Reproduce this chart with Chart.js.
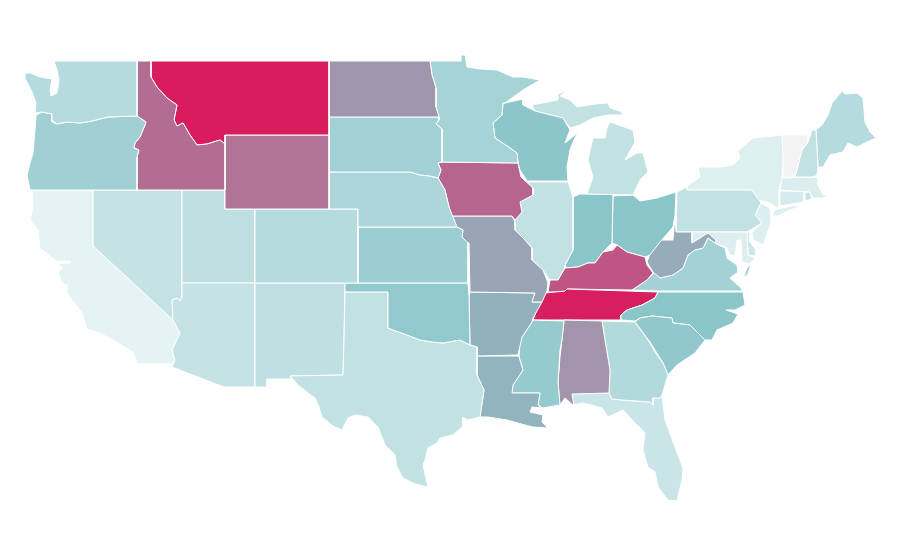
<!DOCTYPE html>
<html>
<head>
<meta charset="utf-8">
<title>US states map</title>
<script src="https://cdn.jsdelivr.net/npm/chart.js@4"></script>
<style>
  html, body { margin: 0; padding: 0; background: #fff; }
  #wrap { width: 900px; height: 560px; }
</style>
</head>
<body>
<div id="wrap"><canvas id="mapChart"></canvas></div>
<script>
// state outlines, in map units
const WA = [[54,61],[137,61],[137,116],[108,117],[100,119],[92,121],[80,123],[67,122],[57,124],[52,120],[52,114],[42,112],[35,113],[36,103],[32,92],[25,78],[25,73],[30,73],[40,77],[52,79],[50,90],[51,96],[57,93],[59,80],[57,70]];
const OR = [[137,116],[146,122],[145,125],[140,137],[135,143],[134,148],[139,150],[137,157],[137,190],[30,190],[27,175],[30,163],[33,153],[35,130],[36,115],[42,112],[52,114],[52,122],[57,124],[67,122],[80,123],[92,121],[100,119],[108,117]];
const ID = [[137,61],[151,61],[151,77],[157,87],[167,98],[177,105],[174,120],[177,126],[183,123],[190,135],[197,145],[207,144],[220,140],[225,144],[225,190],[137,190],[137,157],[139,150],[134,148],[135,143],[140,137],[145,125],[146,122],[137,116]];
const MT = [[151,61],[329,61],[329,135],[225,135],[225,144],[220,140],[207,144],[197,145],[190,135],[183,123],[177,126],[174,120],[177,105],[167,98],[157,87],[151,77]];
const WY = [[225,135],[329,135],[329,209],[225,209]];
const ND = [[329,61],[430,61],[432,75],[436,88],[436,107],[439,117],[329,117]];
const SD = [[329,117],[439,117],[439,120],[436,124],[442,129],[442,162],[438,163],[441,170],[438,178],[430,176],[420,175],[410,172],[342,172],[329,172]];
const NE = [[329,172],[342,172],[410,172],[420,175],[430,176],[438,178],[445,190],[449,207],[457,227],[358,227],[358,209],[329,209]];
const CO = [[255,209],[358,209],[358,283],[255,283]];
const KS = [[358,227],[457,227],[463,230],[462,237],[468,243],[468,283],[358,283]];
const OK = [[345,283],[468,283],[469,297],[470,345],[460,340],[443,343],[432,342],[420,340],[407,335],[393,330],[388,328],[388,292],[345,292]];
const TX = [[345,292],[388,292],[388,328],[393,330],[407,335],[420,340],[432,342],[443,343],[460,340],[470,345],[477,347],[477,375],[484,390],[480,417],[467,420],[463,417],[463,426],[453,435],[440,438],[437,443],[428,448],[425,460],[423,465],[428,487],[415,484],[403,478],[397,467],[395,455],[385,445],[378,427],[368,417],[355,415],[348,418],[342,430],[333,426],[322,417],[319,407],[315,398],[300,387],[290,376],[343,375],[344,340]];
const NM = [[255,283],[345,283],[344,340],[343,375],[290,376],[291,379],[267,379],[267,387],[255,387]];
const AZ = [[182,283],[255,283],[255,387],[224,387],[172,367],[175,360],[172,350],[180,333],[173,320],[172,300],[177,298],[180,301],[182,297]];
const UT = [[182,190],[225,190],[225,209],[255,209],[255,283],[182,283]];
const NV = [[93,190],[182,190],[182,297],[180,301],[177,298],[172,300],[173,320],[93,246]];
const CA = [[32,190],[93,190],[93,246],[173,320],[180,333],[172,350],[175,360],[172,364],[137,364],[133,352],[118,343],[100,333],[87,329],[82,313],[67,293],[67,285],[62,283],[58,272],[62,268],[58,264],[70,263],[70,261],[56,261],[40,248],[38,230],[30,220],[33,207]];
const MN = [[430,61],[461,61],[461,55],[465,55],[467,67],[480,69],[497,70],[513,77],[523,77],[540,80],[523,90],[505,103],[503,103],[502,115],[493,123],[495,138],[507,146],[517,153],[518,163],[442,162],[442,129],[436,124],[439,120],[439,117],[436,107],[436,88],[432,75]];
const WI = [[505,103],[523,99],[523,105],[535,111],[563,118],[570,130],[565,143],[575,135],[578,132],[573,142],[570,150],[567,167],[568,181],[527,181],[520,170],[518,163],[517,153],[507,146],[495,138],[493,123],[502,115],[503,103]];
const UP = [[532,105],[558,100],[558,94],[568,90],[560,96],[570,100],[577,107],[595,104],[608,103],[610,108],[620,111],[623,115],[608,115],[593,118],[580,125],[570,128],[563,118],[535,111]];
const MI = [[610,122],[633,130],[635,142],[625,160],[637,153],[643,153],[648,172],[640,180],[633,195],[587,194],[593,177],[588,160],[590,150],[593,138],[605,138],[607,128]];
const IA = [[442,162],[518,163],[521,177],[533,188],[533,195],[520,202],[522,212],[515,220],[512,216],[452,216],[449,207],[445,190],[438,178],[441,170],[438,163]];
const MO = [[452,216],[512,216],[515,222],[515,230],[525,240],[532,248],[532,260],[543,270],[548,283],[547,291],[542,302],[532,302],[535,293],[470,292],[469,243],[468,243],[462,237],[463,230],[457,227]];
const AR = [[470,292],[535,293],[532,302],[542,302],[533,318],[532,322],[522,337],[518,355],[477,356],[477,347],[470,345],[469,297]];
const LA = [[477,356],[518,356],[519,357],[523,370],[513,385],[512,393],[540,393],[538,405],[542,408],[532,407],[530,412],[543,415],[542,422],[548,428],[533,427],[525,425],[507,420],[488,417],[480,417],[484,390],[477,375]];
const MS = [[533,320],[564,321],[562,340],[560,350],[558,382],[560,405],[543,408],[538,405],[540,393],[512,393],[513,385],[523,370],[519,357],[520,340],[532,322]];
const AL = [[564,320],[602,321],[605,340],[610,370],[609,393],[572,394],[574,406],[565,398],[560,405],[558,383],[560,357]];
const GA = [[602,321],[635,322],[648,340],[657,355],[663,363],[668,375],[662,395],[660,398],[653,398],[653,405],[650,402],[622,400],[612,399],[609,393],[610,370],[605,340]];
const FL = [[572,394],[609,393],[612,399],[622,400],[650,402],[653,405],[653,398],[660,398],[662,395],[665,420],[675,447],[683,468],[682,480],[677,501],[668,500],[658,487],[655,472],[648,467],[643,450],[645,433],[635,423],[623,410],[608,417],[602,408],[583,403],[573,405]];
const SC = [[635,322],[640,318],[652,316],[672,318],[673,323],[690,325],[705,340],[695,353],[677,365],[668,375],[663,363],[650,342]];
const NC = [[658,292],[743,292],[745,305],[735,310],[726,310],[738,314],[733,323],[717,330],[712,340],[705,340],[690,325],[673,323],[672,318],[652,316],[640,318],[635,321],[621,320],[621,315],[627,310],[642,305],[655,298]];
const TN = [[545,293],[565,291],[567,289],[658,292],[655,298],[642,305],[627,310],[621,315],[621,320],[533,320],[538,307]];
const KY = [[548,292],[550,280],[558,280],[565,268],[578,267],[588,263],[595,263],[603,252],[613,250],[617,245],[627,252],[645,257],[647,265],[653,273],[647,280],[632,290],[567,289],[565,292]];
const IL = [[527,182],[568,182],[573,197],[573,240],[573,250],[565,265],[565,268],[558,280],[550,280],[543,270],[532,260],[532,248],[525,240],[515,230],[514,220],[522,212],[520,202],[533,195],[533,188]];
const IN = [[573,197],[580,194],[613,194],[612,243],[603,252],[595,263],[588,263],[578,267],[565,268],[565,265],[573,250],[572,240]];
const OH = [[613,196],[633,195],[640,201],[657,198],[676,192],[675,215],[673,227],[660,242],[650,255],[645,257],[627,252],[617,245],[612,243]];
const WV = [[675,216],[676,232],[692,232],[692,243],[700,238],[708,233],[716,240],[715,243],[708,238],[703,248],[695,250],[688,255],[683,268],[673,275],[660,278],[653,272],[647,262],[652,248],[660,240],[673,240]];
const VA = [[632,290],[647,280],[655,272],[660,278],[673,275],[683,268],[688,255],[695,250],[703,248],[708,238],[715,243],[725,248],[727,258],[737,265],[738,272],[730,278],[740,287],[743,291],[658,291]];
const VS = [[751,264],[747,268],[743,278],[748,274]];
const MD = [[692,232],[747,232],[748,255],[755,258],[750,264],[742,262],[741,240],[737,240],[735,256],[730,255],[727,248],[715,243],[716,240],[708,233],[700,238],[692,243]];
const DE = [[747,232],[750,232],[750,242],[756,250],[756,256],[748,255]];
const PA = [[677,192],[687,187],[687,190],[752,190],[761,203],[755,215],[762,223],[747,232],[676,232]];
const NJ = [[761,203],[770,208],[771,223],[763,245],[753,240],[752,232],[762,223],[755,215]];
const NY = [[687,190],[687,186],[700,177],[698,167],[720,167],[733,165],[740,158],[738,151],[753,138],[782,135],[783,160],[782,178],[779,190],[779,205],[777,208],[770,203],[758,200],[756,195],[752,190]];
const LI = [[772,216],[775,210],[790,206],[802,206],[790,210],[778,216]];
const VT = [[782,135],[808,135],[808,142],[802,150],[795,177],[783,177],[783,160]];
const NH = [[812,130],[816,130],[818,167],[817,175],[813,177],[795,177],[802,150],[808,142]];
const ME = [[816,130],[822,125],[828,115],[832,103],[842,91],[845,94],[857,93],[863,98],[865,122],[870,132],[876,138],[867,142],[857,147],[848,143],[843,152],[830,155],[823,167],[818,167]];
const MA = [[782,178],[813,177],[818,177],[818,185],[823,195],[830,196],[822,198],[812,198],[810,192],[780,190]];
const CT = [[780,191],[804,191],[804,202],[780,206]];
const RI = [[805,192],[810,192],[812,199],[805,201]];

const stateOutlines = [WA,OR,ID,MT,WY,ND,SD,NE,CO,KS,OK,TX,NM,AZ,UT,NV,CA,MN,WI,UP,MI,IA,MO,AR,LA,MS,AL,GA,FL,SC,NC,TN,KY,IL,IN,OH,WV,VA,VS,MD,DE,PA,NJ,NY,LI,VT,NH,ME,MA,CT,RI];
const stateNames = ['WA','OR','ID','MT','WY','ND','SD','NE','CO','KS','OK','TX','NM','AZ','UT','NV','CA','MN','WI','MI','MI','IA','MO','AR','LA','MS','AL','GA','FL','SC','NC','TN','KY','IL','IN','OH','WV','VA','VA','MD','DE','PA','NJ','NY','NY','VT','NH','ME','MA','CT','RI'];
// null = no data (Vermont)
const stateValues = [29.5,39.5,76,100,74,64,38.5,34,29.5,42,46,24,25,22,25,22,6.7,37,49,24,24,78,59.5,56,55,45,64.5,31,19.5,47,50,99,83,24,50,50,57.5,38,38,11,18,24,11,10,10,null,24,29,11.5,14,20.5];

// colour ramp: pale -> teal -> crimson
const rampLow = [243,250,250];
const rampMid = [138,197,202];
const rampHigh = [217,28,94];
const noDataColor = '#f3f3f4';

function valueToColor(v) {
  if (v === null) return noDataColor;
  const from = v < 50 ? rampLow : rampMid;
  const to = v < 50 ? rampMid : rampHigh;
  const t = v < 50 ? v / 50 : (v - 50) / 50;
  const c = from.map((a, i) => Math.round(a + (to[i] - a) * t));
  return `rgb(${c[0]},${c[1]},${c[2]})`;
}

document.addEventListener("DOMContentLoaded", () => {

  const ctx = document.getElementById('mapChart').getContext('2d');

  const datasets = stateOutlines.map((outline, i) => {
    const points = outline.map(p => ({ x: p[0], y: p[1] }));
    points.push({ x: outline[0][0], y: outline[0][1] }); // close the ring
    return {
      label: stateNames[i],
      data: points,
      showLine: true,
      fill: 'shape',
      backgroundColor: valueToColor(stateValues[i]),
      borderColor: '#ffffff',
      borderWidth: 1,
      pointRadius: 0,
      tension: 0
    };
  });

  new Chart(ctx, {
    type: 'scatter',
    data: { datasets },
    options: {
      responsive: true,
      maintainAspectRatio: false,
      animation: false,
      layout: { padding: 0 },
      plugins: {
        legend: { display: false },
        tooltip: { enabled: false }
      },
      scales: {
        x: { type: 'linear', display: false, min: 0, max: 900 },
        y: { type: 'linear', display: false, min: 0, max: 560, reverse: true }
      }
    }
  });

});
</script>
</body>
</html>
